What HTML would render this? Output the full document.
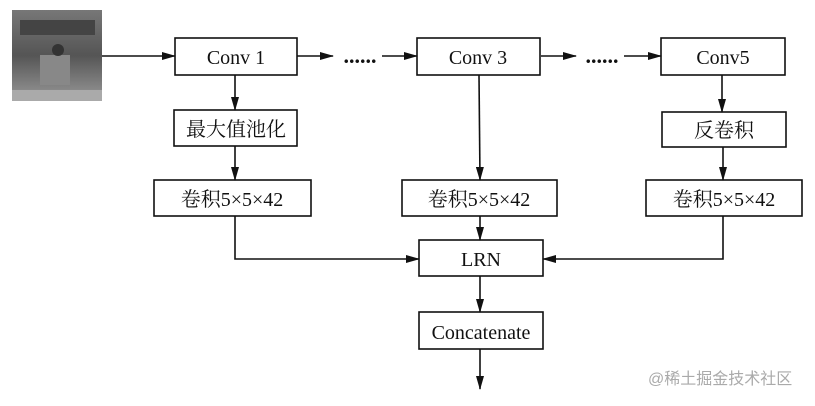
<!DOCTYPE html>
<html><head><meta charset="utf-8"><style>
body{margin:0;background:#fff;width:815px;height:401px;overflow:hidden}
svg text{font-family:"Liberation Serif","Noto Serif CJK SC",serif;fill:#111}
</style></head><body>
<svg width="815" height="401" viewBox="0 0 815 401">
<defs>
<marker id="a" markerWidth="14" markerHeight="8" refX="13" refY="4" orient="auto" markerUnits="userSpaceOnUse"><path d="M0,0 L14,4 L0,8 Z" fill="#111"/></marker>
<linearGradient id="g" x1="0" y1="0" x2="0" y2="1"><stop offset="0" stop-color="#777"/><stop offset="0.5" stop-color="#555"/><stop offset="1" stop-color="#999"/></linearGradient>
</defs>
<rect x="12" y="10" width="90" height="91" fill="url(#g)"/>
<rect x="20" y="20" width="75" height="15" fill="#444"/>
<rect x="40" y="55" width="30" height="30" fill="#888"/>
<circle cx="58" cy="50" r="6" fill="#333"/>
<rect x="12" y="90" width="90" height="11" fill="#aaa"/>
<g stroke="#111" stroke-width="1.6" fill="none">
<line x1="102" y1="56" x2="175" y2="56" marker-end="url(#a)"/>
<line x1="297" y1="56" x2="333" y2="56" marker-end="url(#a)"/>
<line x1="382" y1="56" x2="417" y2="56" marker-end="url(#a)"/>
<line x1="541" y1="56" x2="576" y2="56" marker-end="url(#a)"/>
<line x1="624" y1="56" x2="661" y2="56" marker-end="url(#a)"/>
<line x1="235" y1="75" x2="235" y2="110" marker-end="url(#a)"/>
<line x1="235" y1="146" x2="235" y2="180" marker-end="url(#a)"/>
<line x1="479" y1="75" x2="480" y2="180" marker-end="url(#a)"/>
<line x1="722" y1="75" x2="722" y2="112" marker-end="url(#a)"/>
<line x1="723" y1="147" x2="723" y2="180" marker-end="url(#a)"/>
<polyline points="235,216 235,259 419,259" marker-end="url(#a)"/>
<polyline points="723,216 723,259 543,259" marker-end="url(#a)"/>
<line x1="480" y1="216" x2="480" y2="240" marker-end="url(#a)"/>
<line x1="480" y1="276" x2="480" y2="312" marker-end="url(#a)"/>
<line x1="480" y1="349" x2="480" y2="389" marker-end="url(#a)"/>
<rect x="175" y="38" width="122" height="37"/>
<rect x="417" y="38" width="123" height="37"/>
<rect x="661" y="38" width="124" height="37"/>
<rect x="174" y="110" width="123" height="36"/>
<rect x="662" y="112" width="124" height="35"/>
<rect x="154" y="180" width="157" height="36"/>
<rect x="402" y="180" width="155" height="36"/>
<rect x="646" y="180" width="156" height="36"/>
<rect x="419" y="240" width="124" height="36"/>
<rect x="419" y="312" width="124" height="37"/>
</g>
<g font-size="20" text-anchor="middle">
<text x="236" y="64">Conv 1</text>
<text x="478" y="64">Conv 3</text>
<text x="723" y="64">Conv5</text>
<text x="360" y="63" font-size="22" font-weight="bold">......</text>
<text x="602" y="63" font-size="22" font-weight="bold">......</text>
<text x="236" y="136">最大值池化</text>
<text x="724" y="137">反卷积</text>
<text x="232" y="206">卷积5×5×42</text>
<text x="479" y="206">卷积5×5×42</text>
<text x="724" y="206">卷积5×5×42</text>
<text x="481" y="266">LRN</text>
<text x="481" y="339">Concatenate</text>
</g>
<text x="648" y="384" font-size="16" style="fill:#aaa;font-family:'Liberation Sans','Noto Sans CJK SC',sans-serif">@稀土掘金技术社区</text>
</svg>
</body></html>
